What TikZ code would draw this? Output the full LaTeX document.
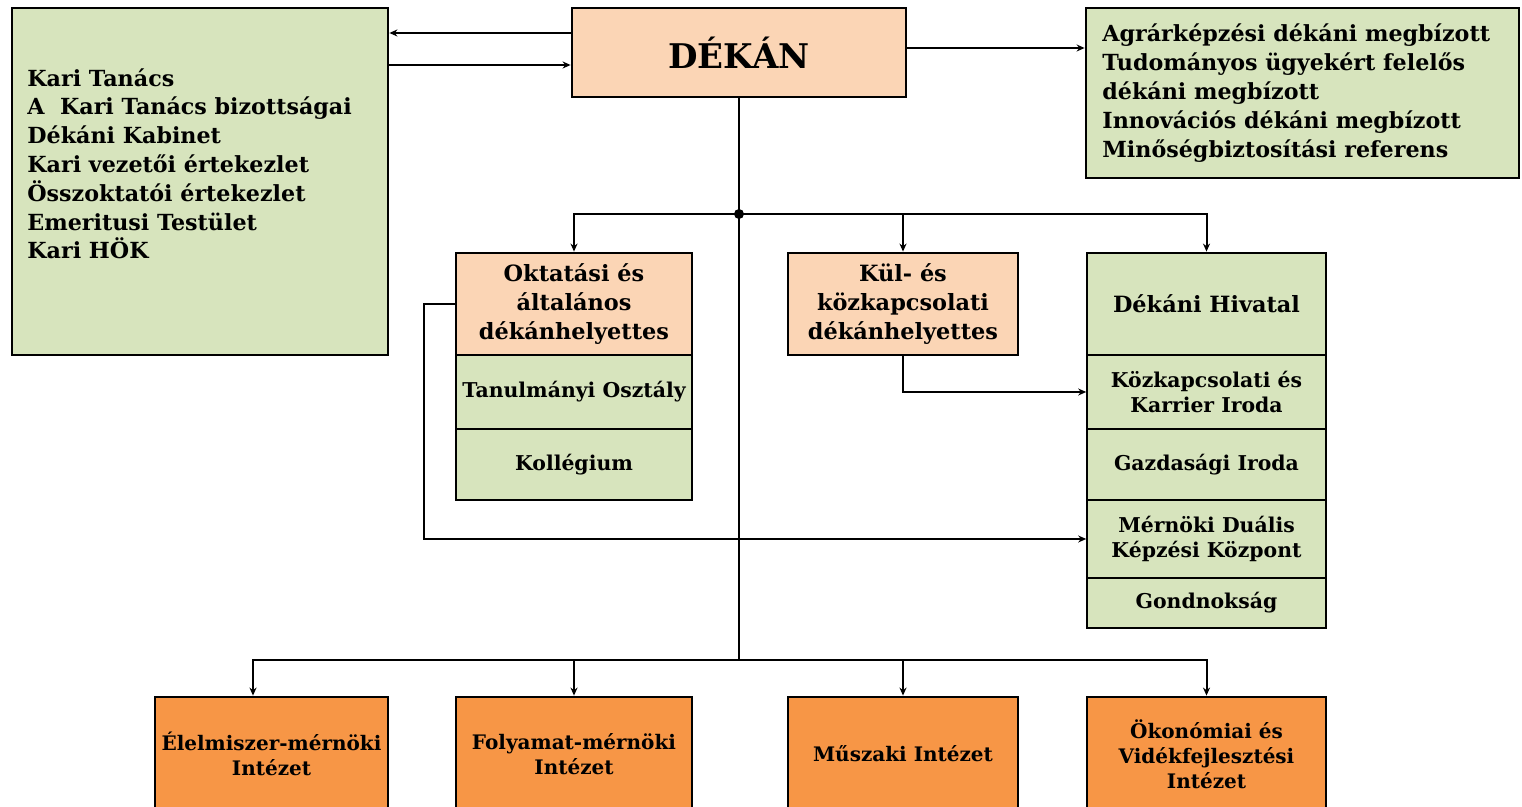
\documentclass[tikz,border=0pt]{standalone}
\usepackage{fontspec}
\setmainfont{DejaVu Serif}
\usetikzlibrary{arrows.meta}
\definecolor{peach}{HTML}{FBD5B5}
\definecolor{sage}{HTML}{D7E4BD}
\definecolor{tangerine}{HTML}{F79646}
\tikzset{
  unitbox/.style={draw, line width=1.4pt, inner sep=0pt, align=center,
    font=\bfseries\fontsize{11.2}{14.3}\selectfont},
  leadbox/.style={unitbox, fill=peach},
  officebox/.style={unitbox, fill=sage, line width=0.8pt,
    font=\bfseries\fontsize{10.2}{12.5}\selectfont},
  institbox/.style={unitbox, fill=tangerine, font=\bfseries\fontsize{10}{12.5}\selectfont},
  listtext/.style={inner sep=0pt, align=left, font=\bfseries\fontsize{11.1}{14.4}\selectfont},
  link/.style={line width=1pt, -{Stealth[length=4pt,width=3.5pt]}},
}
\begin{document}
\begin{tikzpicture}[x=0.5pt,y=-0.5pt]
  \useasboundingbox (0,0) rectangle (1522,807);
  % top row
  \node[unitbox, fill=sage, minimum width=188pt, minimum height=173.5pt] (kt) at (200,181.5) {};
  \node[listtext, anchor=north west] (ktlist) at (27,68) {Kari Tanács\\A\ \ Kari Tanács bizottságai\\Dékáni Kabinet\\Kari vezetői értekezlet\\Összoktatói értekezlet\\Emeritusi Testület\\Kari HÖK};
  \node[leadbox, minimum width=167pt, minimum height=44.5pt, font=\bfseries\fontsize{17}{20}\selectfont] (dekan) at (739,52.5) {DÉKÁN};
  \node[unitbox, fill=sage, minimum width=216.5pt, minimum height=85pt] (megb) at (1302.5,93) {};
  \node[listtext, anchor=west] (megblist) at (1102,93) {Agrárképzési dékáni megbízott\\Tudományos ügyekért felelős\\dékáni megbízott\\Innovációs dékáni megbízott\\Minőségbiztosítási referens};
  % middle row
  \node[leadbox, minimum width=118pt, minimum height=51pt] (okt) at (574,304) {Oktatási és\\általános\\dékánhelyettes};
  \node[officebox, minimum width=118pt, minimum height=37pt] (tanosz) at (574,392) {Tanulmányi Osztály};
  \node[officebox, minimum width=118pt, minimum height=35.5pt] (koll) at (574,464.5) {Kollégium};
  \node[leadbox, minimum width=115pt, minimum height=51pt] (kul) at (903,304) {Kül- és\\közkapcsolati\\dékánhelyettes};
  \node[unitbox, fill=sage, minimum width=119.5pt, minimum height=51pt] (hiv) at (1206.5,304) {Dékáni Hivatal};
  \node[officebox, minimum width=119.5pt, minimum height=37pt] (kozk) at (1206.5,392) {Közkapcsolati és\\Karrier Iroda};
  \node[officebox, minimum width=119.5pt, minimum height=35.5pt] (gazd) at (1206.5,464.5) {Gazdasági Iroda};
  \node[officebox, minimum width=119.5pt, minimum height=39pt] (dual) at (1206.5,539) {Mérnöki Duális\\Képzési Központ};
  \node[officebox, minimum width=119.5pt, minimum height=25pt] (gond) at (1206.5,603) {Gondnokság};
  % institutes
  \node[institbox, minimum width=116.5pt, minimum height=57pt] (ins1) at (271.5,754) {Élelmiszer-mérnöki\\Intézet};
  \node[institbox, minimum width=118pt, minimum height=57pt] (ins2) at (574,754) {Folyamat-mérnöki\\Intézet};
  \node[institbox, minimum width=115pt, minimum height=57pt] (ins3) at (903,754) {Műszaki Intézet};
  \node[institbox, minimum width=119.5pt, minimum height=57pt] (ins4) at (1206.5,754) {Ökonómiai és\\Vidékfejlesztési\\Intézet};
  % connectors
  \coordinate (rowA) at (0,33);
  \coordinate (rowB) at (0,65);
  \coordinate (rowC) at (0,48);
  \coordinate (hub) at (739,214);
  \coordinate (base) at (739,660);
  \draw[link] (dekan.west |- rowA) -- (kt.east |- rowA);
  \draw[link] (kt.east |- rowB) -- (dekan.west |- rowB);
  \draw[link] (dekan.east |- rowC) -- (megb.west |- rowC);
  \draw[line width=1pt] (dekan.south) -- (base);
  \fill (hub) circle (5);
  \draw[link] (hub) -| (okt.north);
  \draw[link] (hub) -| (kul.north);
  \draw[link] (hub) -| (hiv.north);
  \draw[link] (kul.south) |- (kozk.west);
  \draw[link] (okt.west) -- ++(-31,0) |- (dual.west);
  \draw[link] (base) -| ([xshift=-9.25pt]ins1.north);
  \draw[link] (base) -| (ins2.north);
  \draw[link] (base) -| (ins3.north);
  \draw[link] (base) -| (ins4.north);
\end{tikzpicture}
\end{document}
